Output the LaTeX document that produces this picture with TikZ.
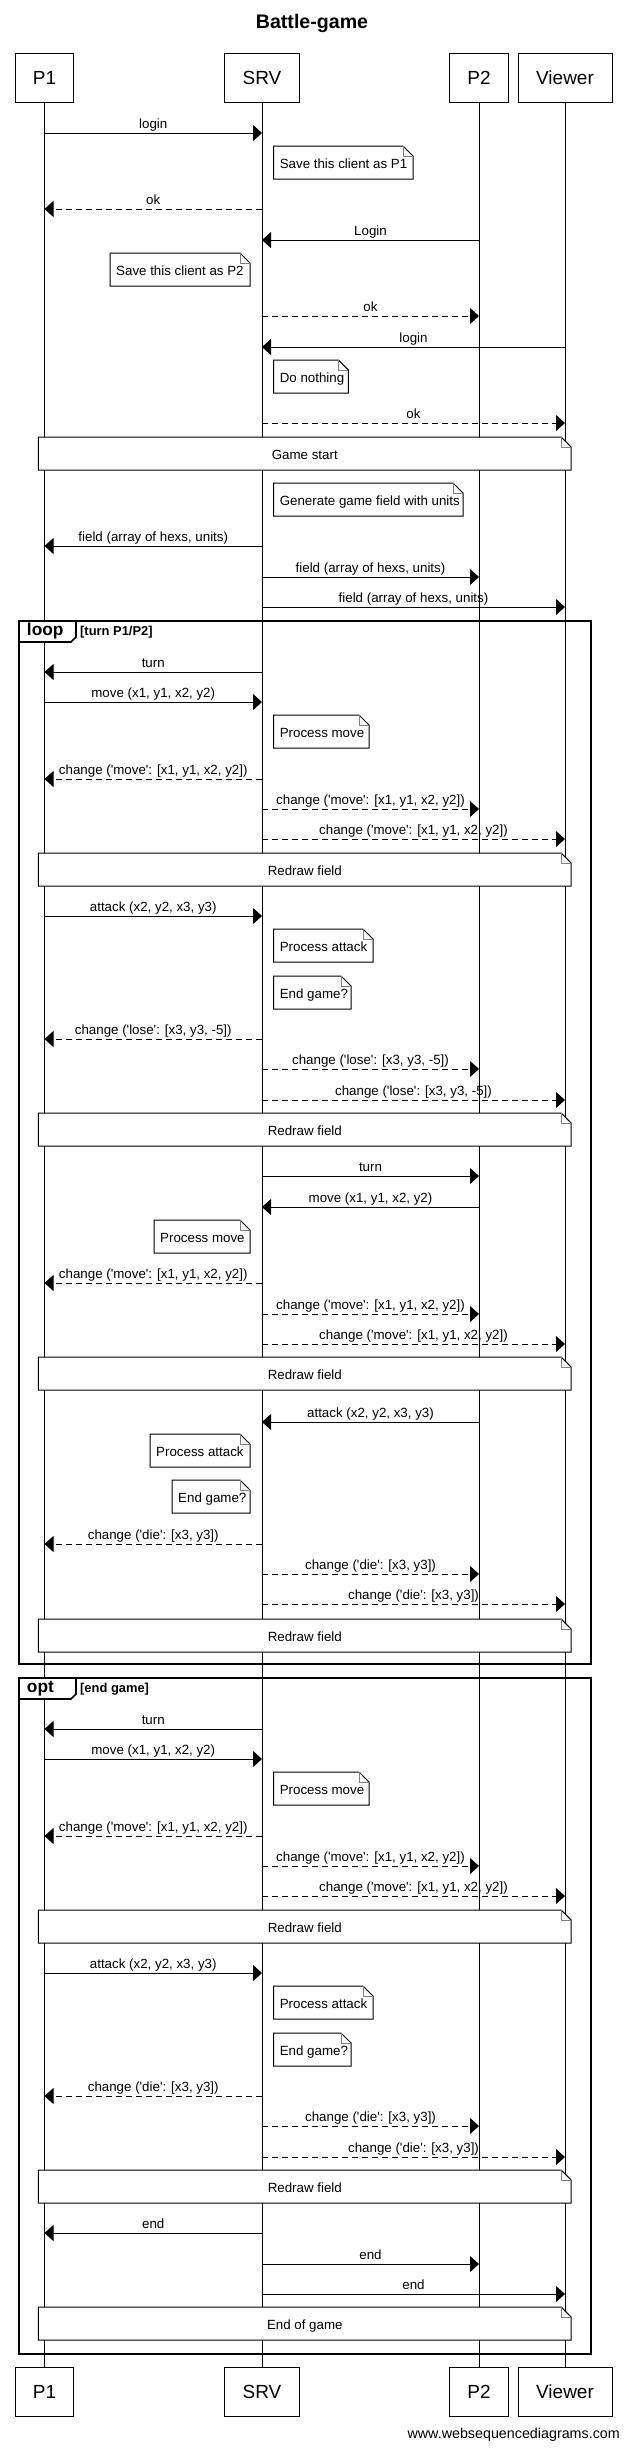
\documentclass[tikz,border=0pt]{standalone}
\usepackage{fontspec}
\setmainfont{Liberation Sans}
\usetikzlibrary{arrows.meta,calc}
\newcommand\q{\textquotesingle}
\tikzset{
  life/.style={line width=1pt},
  actor/.style={draw, line width=1pt, fill=white, minimum width=#1, minimum height=49pt, inner sep=0pt, font=\fontsize{19}{23}\selectfont},
  msgline/.style={line width=1pt, -{Triangle[length=9pt,width=16pt]}},
  reply/.style={dash pattern=on 6pt off 4pt},
  lbl/.style={font=\fontsize{13.33}{16}\selectfont, inner sep=0pt},
  notebox/.style={draw, fill=white, line width=1pt},
  fold/.style={draw=gray, line width=0.8pt},
  notetxt/.style={font=\fontsize{13.33}{16}\selectfont, inner sep=0pt},
  frame/.style={draw, line width=2pt},
  tab/.style={draw, fill=white, line width=1.6pt},
  tablbl/.style={font=\bfseries\fontsize{17.3}{20}\selectfont, inner sep=0pt, anchor=base west},
  condlbl/.style={font=\bfseries\fontsize{12.9}{15}\selectfont, inner sep=0pt, anchor=base west}
}
% message: [style] from, to, y, label
\newcommand\smsg[5][]{\draw[msgline,#1] (#2 |- 0,#4) -- (#3 |- 0,#4) node[lbl, midway, anchor=base, yshift=4.5pt] {#5};}
% note: name, left, right, top, text
\newcommand\snote[5]{%
  \path[notebox] (#2,#4) -- ({#3-10},#4) -- (#3,{#4+10}) -- (#3,{#4+33}) -- (#2,{#4+33}) -- cycle;
  \draw[fold] ({#3-10},#4) -- ({#3-10},{#4+10}) -- (#3,{#4+10});
  \node[notetxt, anchor=base west] (#1) at ({#2+6},{#4+22.3}) {#5};}
% wide note: name, top, text
\newcommand\wnote[3]{%
  \path[notebox] (38.4,#2) -- (561.2,#2) -- (571.2,{#2+10}) -- (571.2,{#2+33}) -- (38.4,{#2+33}) -- cycle;
  \draw[fold] (561.2,#2) -- (561.2,{#2+10}) -- (571.2,{#2+10});
  \node[notetxt, anchor=base] (#1) at (304.8,{#2+22}) {#3};}
\begin{document}
\begin{tikzpicture}[x=1pt,y=-1pt]
\fill[white] (0,0) rectangle (624,2450);
\useasboundingbox (0,0) rectangle (624,2450);

\node[font=\bfseries\fontsize{19.6}{23}\selectfont, anchor=base, inner sep=0pt] (title) at (312,28.3) {Battle-game};

% participants
\node[actor=58.4pt] (P1) at (44.5,77.5) {P1};
\node[actor=74.8pt] (SRV) at (262,77.5) {SRV};
\node[actor=58.4pt] (P2) at (479,77.5) {P2};
\node[actor=94pt] (VW) at (565,77.5) {Viewer};
\node[actor=58.4pt] (P1b) at (44.5,2391.5) {P1};
\node[actor=74.8pt] (SRVb) at (262,2391.5) {SRV};
\node[actor=58.4pt] (P2b) at (479,2391.5) {P2};
\node[actor=94pt] (VWb) at (565,2391.5) {Viewer};

% lifelines
\draw[life] (P1) -- (P1b);
\draw[life] (SRV) -- (SRVb);
\draw[life] (P2) -- (P2b);
\draw[life] (VW) -- (VWb);

% frames
\draw[frame] (19,621) rectangle (591,1664);
\draw[frame] (19,1678) rectangle (591,2354);

% login phase
\smsg{P1}{SRV}{133}{login}
\snote{n1}{273.6}{413}{146}{Save this client as P1}
\smsg[reply]{SRV}{P1}{209}{ok}
\smsg{P2}{SRV}{240}{Login}
\snote{n2}{110}{250}{253}{Save this client as P2}
\smsg[reply]{SRV}{P2}{316}{ok}
\smsg{VW}{SRV}{347}{login}
\snote{n3}{273.6}{348.4}{360}{Do nothing}
\smsg[reply]{SRV}{VW}{423}{ok}
\wnote{w1}{437}{Game start}
\snote{n4}{273.6}{463}{483}{Generate game field with units}
\smsg{SRV}{P1}{546}{field (array of hexs, units)}
\smsg{SRV}{P2}{577}{field (array of hexs, units)}
\smsg{SRV}{VW}{607}{field (array of hexs, units)}

% loop
\smsg{SRV}{P1}{672}{turn}
\smsg{P1}{SRV}{702}{move (x1, y1, x2, y2)}
\snote{n5}{273.6}{369}{715}{Process move}
\smsg[reply]{SRV}{P1}{779}{change (\q move\q: [x1, y1, x2, y2])}
\smsg[reply]{SRV}{P2}{809}{change (\q move\q: [x1, y1, x2, y2])}
\smsg[reply]{SRV}{VW}{839}{change (\q move\q: [x1, y1, x2, y2])}
\wnote{w2}{853}{Redraw field}
\smsg{P1}{SRV}{916}{attack (x2, y2, x3, y3)}
\snote{n6}{273.6}{373}{929}{Process attack}
\snote{n7}{273.6}{351}{976}{End game?}
\smsg[reply]{SRV}{P1}{1039}{change (\q lose\q: [x3, y3, -5])}
\smsg[reply]{SRV}{P2}{1069}{change (\q lose\q: [x3, y3, -5])}
\smsg[reply]{SRV}{VW}{1100}{change (\q lose\q: [x3, y3, -5])}
\wnote{w3}{1113}{Redraw field}
\smsg{SRV}{P2}{1176}{turn}
\smsg{P2}{SRV}{1207}{move (x1, y1, x2, y2)}
\snote{n8}{154}{250}{1220}{Process move}
\smsg[reply]{SRV}{P1}{1283}{change (\q move\q: [x1, y1, x2, y2])}
\smsg[reply]{SRV}{P2}{1314}{change (\q move\q: [x1, y1, x2, y2])}
\smsg[reply]{SRV}{VW}{1344}{change (\q move\q: [x1, y1, x2, y2])}
\wnote{w4}{1357}{Redraw field}
\smsg{P2}{SRV}{1422}{attack (x2, y2, x3, y3)}
\snote{n9}{150}{250}{1434}{Process attack}
\snote{n10}{172}{250}{1480}{End game?}
\smsg[reply]{SRV}{P1}{1544}{change (\q die\q: [x3, y3])}
\smsg[reply]{SRV}{P2}{1574}{change (\q die\q: [x3, y3])}
\smsg[reply]{SRV}{VW}{1604}{change (\q die\q: [x3, y3])}
\wnote{w5}{1619}{Redraw field}

% opt
\smsg{SRV}{P1}{1729}{turn}
\smsg{P1}{SRV}{1759}{move (x1, y1, x2, y2)}
\snote{n11}{273.6}{369}{1772}{Process move}
\smsg[reply]{SRV}{P1}{1836}{change (\q move\q: [x1, y1, x2, y2])}
\smsg[reply]{SRV}{P2}{1866}{change (\q move\q: [x1, y1, x2, y2])}
\smsg[reply]{SRV}{VW}{1896}{change (\q move\q: [x1, y1, x2, y2])}
\wnote{w6}{1910}{Redraw field}
\smsg{P1}{SRV}{1973}{attack (x2, y2, x3, y3)}
\snote{n12}{273.6}{373}{1986}{Process attack}
\snote{n13}{273.6}{351}{2033}{End game?}
\smsg[reply]{SRV}{P1}{2096}{change (\q die\q: [x3, y3])}
\smsg[reply]{SRV}{P2}{2126}{change (\q die\q: [x3, y3])}
\smsg[reply]{SRV}{VW}{2157}{change (\q die\q: [x3, y3])}
\wnote{w7}{2170}{Redraw field}
\smsg{SRV}{P1}{2233}{end}
\smsg{SRV}{P2}{2264}{end}
\smsg{SRV}{VW}{2294}{end}
\wnote{w8}{2307}{End of game}

% frame tabs
\path[tab] (19,621) -- (76,621) -- (76,637) -- (71,642) -- (19,642) -- cycle;
\node[tablbl] (looplbl) at (26.8,635.5) {loop};
\node[condlbl] (loopcond) at (80,635) {[turn P1/P2]};
\path[tab] (19,1678) -- (76,1678) -- (76,1694) -- (71,1699) -- (19,1699) -- cycle;
\node[tablbl] (optlbl) at (26.8,1692.5) {opt};
\node[condlbl] (optcond) at (80,1692) {[end game]};

\node[font=\fontsize{14.3}{17}\selectfont, anchor=base east, inner sep=0pt] (wm) at (620,2438) {www.websequencediagrams.com};
\end{tikzpicture}
\end{document}
